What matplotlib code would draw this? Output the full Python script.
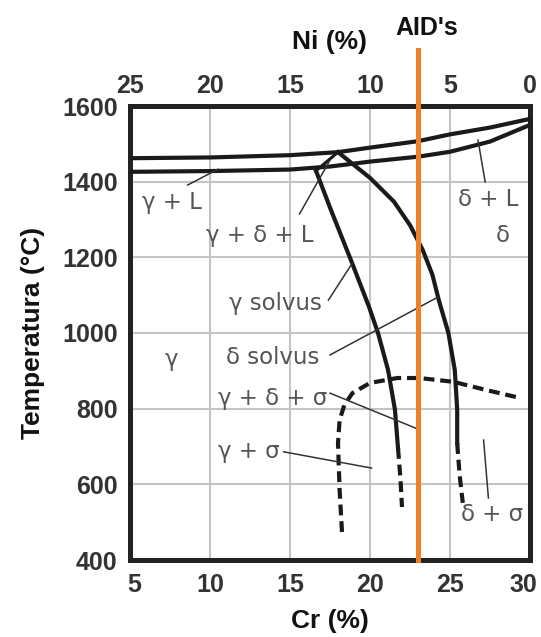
import matplotlib
matplotlib.use("Agg")
import matplotlib.pyplot as plt
import matplotlib.transforms as mtransforms

# ---------------- data ----------------
cr_ticks = [5, 10, 15, 20, 25, 30]
ni_ticks = [25, 20, 15, 10, 5, 0]
t_ticks = [400, 600, 800, 1000, 1200, 1400, 1600]

# liquidus (upper) and solidus (lower) lines
liq_cr = [5, 10, 15, 18, 20, 23, 25, 27.5, 30]
liq_t = [1462, 1464, 1470, 1478, 1490, 1507, 1525, 1543, 1566]
sol_cr = [5, 10, 15, 17.5, 20, 23, 25, 27.5, 30]
sol_t = [1426, 1428, 1432, 1440, 1453, 1466, 1479, 1506, 1550]

# three phase (gamma+delta+L) edge
tri_cr = [16.6, 18.0]
tri_t = [1428, 1478]

# gamma solvus (solid part, then dashed extension)
gsol_cr = [16.63, 17.56, 18.88, 19.94, 20.5, 21.13, 21.56, 21.75]
gsol_t = [1428, 1325, 1185, 1069, 1000, 902, 797, 696]
gsol_d_cr = [21.75, 21.9, 22.0]
gsol_d_t = [696, 617, 540]

# delta solvus (solid part, then dashed extension)
dsol_cr = [18.0, 20.0, 21.5, 22.5, 23.3, 23.9, 24.3, 24.9, 25.3, 25.45, 25.45]
dsol_t = [1478, 1410, 1347, 1285, 1219, 1154, 1087, 1000, 902, 797, 709]
dsol_d_cr = [25.45, 25.6, 25.8]
dsol_d_t = [709, 625, 551]

# sigma solvus (dashed)
sig_cr = [18.25, 18.1, 18.0, 18.1, 18.4, 18.9, 20.0, 21.7, 23.1, 25.2, 27.3, 29.4]
sig_t = [474, 585, 709, 770, 810, 841, 868, 881, 881, 871, 849, 828]

# AID's composition
aid_cr = 23.0

# region labels: (text, Cr, T)
labels = ["γ + L", "γ + δ + L", "δ + L", "δ", "γ solvus", "δ solvus",
          "γ", "γ + δ + σ", "γ + σ", "δ + σ"]
label_cr = [7.6, 13.1, 27.4, 28.3, 14.1, 13.9, 7.6, 13.9, 12.4, 27.6]
label_t = [1346, 1259, 1352, 1259, 1079, 934, 929, 828, 688, 519]

# leader lines: (Cr0, T0, Cr1, T1)
leader_cr0 = [8.6, 15.6, 27.2, 17.4, 17.5, 17.5, 14.6, 27.1]
leader_t0 = [1391, 1315, 1399, 1087, 942, 841, 686, 717]
leader_cr1 = [10.5, 17.5, 26.75, 18.9, 24.25, 23.0, 20.1, 27.4]
leader_t1 = [1433, 1457, 1510, 1185, 1095, 746, 643, 564]

# ---------------- figure ----------------
W, H = 541, 637
fig = plt.figure(figsize=(W / 100, H / 100), dpi=100)
ax = fig.add_axes([130 / W, 1 - 560 / H, 400 / W, 454 / H])
ax.set_xlim(5, 30)
ax.set_ylim(400, 1600)

tick_font = dict(family="Liberation Sans", weight="bold", size=18)
ax.set_xticks(cr_ticks)
ax.set_xticklabels([str(v) for v in cr_ticks], color="#333333", **tick_font)
ax.set_yticks(t_ticks)
ax.set_yticklabels([str(v) for v in t_ticks], color="#333333", **tick_font)
ax.tick_params(axis="both", length=0)
ax.tick_params(axis="x", pad=9)
ax.tick_params(axis="y", pad=9)
ax.grid(True, color="#c4c4c4", linewidth=1.5)
ax.set_axisbelow(True)
for s in ax.spines.values():
    s.set_linewidth(3.6)
    s.set_color("#222222")

# nudge the end labels of the bottom axis inward, as in the reference
xt = ax.xaxis.get_major_ticks()
xt[0].label1.set_transform(xt[0].label1.get_transform()
                           + mtransforms.ScaledTranslation(4 / 100, 0, fig.dpi_scale_trans))
xt[-1].label1.set_transform(xt[-1].label1.get_transform()
                            + mtransforms.ScaledTranslation(-7 / 100, 0, fig.dpi_scale_trans))

ax2 = ax.twiny()
ax2.set_xlim(ax.get_xlim())
ax2.set_xticks([30 - n for n in ni_ticks])
ax2.set_xticklabels([str(n) for n in ni_ticks], color="#333333", **tick_font)
ax2.tick_params(axis="x", length=0, pad=6)
for s in ax2.spines.values():
    s.set_visible(False)

ax.set_xlabel("Cr (%)", family="Liberation Sans", weight="bold", size=19,
              labelpad=9, color="#111111")
ax.set_ylabel("Temperatura (°C)", family="Liberation Sans", weight="bold",
              size=19, labelpad=12, color="#111111")

lc = "#1a1a1a"
lw = 3.0
ax.plot(liq_cr, liq_t, color=lc, lw=lw, solid_capstyle="butt", zorder=3)
ax.plot(sol_cr, sol_t, color=lc, lw=lw, solid_capstyle="butt", zorder=3)
ax.plot(tri_cr, tri_t, color=lc, lw=2.2, zorder=3)
ax.plot(gsol_cr, gsol_t, color=lc, lw=lw, solid_joinstyle="round", zorder=3)
ax.plot(gsol_d_cr, gsol_d_t, color=lc, lw=lw, dashes=(2.6, 1.4), zorder=3)
ax.plot(dsol_cr, dsol_t, color=lc, lw=lw, solid_joinstyle="round", zorder=3)
ax.plot(dsol_d_cr, dsol_d_t, color=lc, lw=lw, dashes=(2.6, 1.4), zorder=3)
ax.plot(sig_cr, sig_t, color=lc, lw=lw, dashes=(2.6, 1.4), zorder=3)

for c0, t0, c1, t1 in zip(leader_cr0, leader_t0, leader_cr1, leader_t1):
    ax.plot([c0, c1], [t0, t1], color="#333333", lw=1.1, zorder=3)

for txt, c, t in zip(labels, label_cr, label_t):
    ax.text(c, t, txt, ha="center", va="center", family="DejaVu Sans",
            size=16.5, color="#555555", zorder=4)

# AID's vertical line, extending above the frame
ax.axvline(aid_cr, ymin=0, ymax=1.123, color="#f07f26", lw=3.6,
           clip_on=False, zorder=5)

trans = mtransforms.blended_transform_factory(ax.transData, ax.transAxes)
ax.text(aid_cr + 0.55, 1.172, "AID's", transform=trans, ha="center",
        va="center", family="Liberation Sans", weight="bold", size=18,
        color="#111111")
ax.text(17.5, 1.141, "Ni (%)", transform=trans, ha="center", va="center",
        family="Liberation Sans", weight="bold", size=19, color="#111111")

fig.savefig("out.png", dpi=100)
